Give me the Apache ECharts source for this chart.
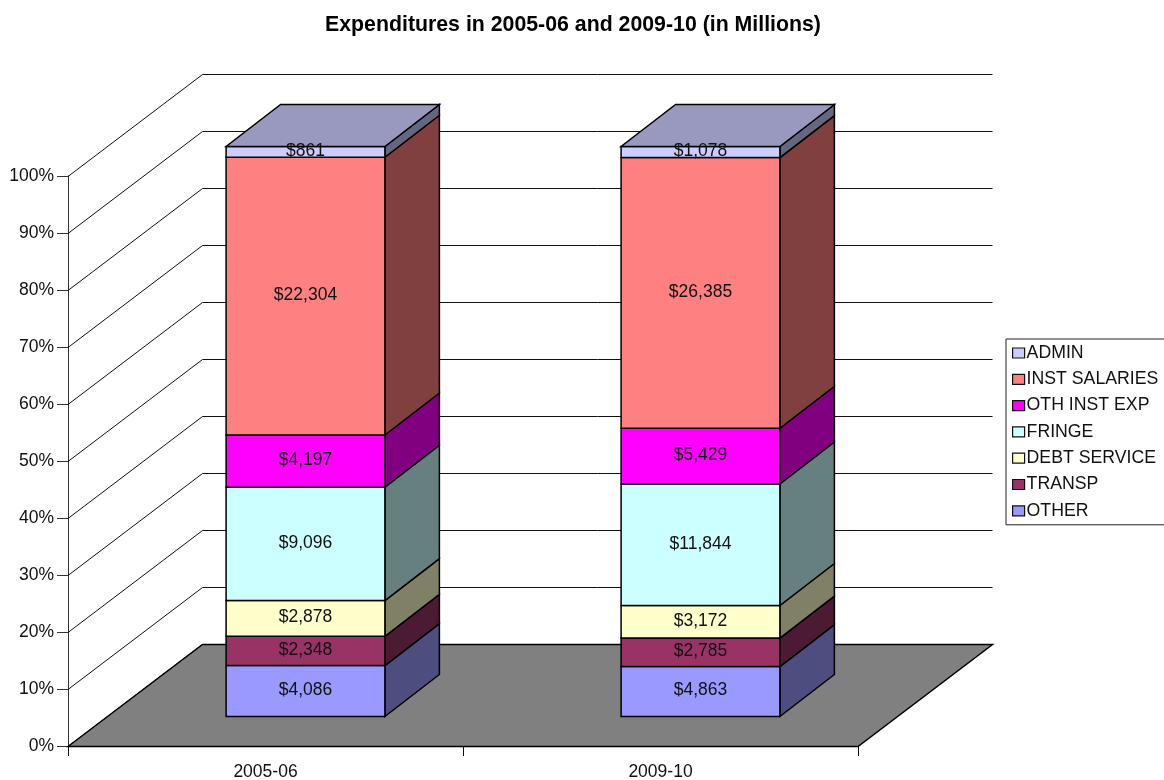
<!DOCTYPE html>
<html>
<head>
<meta charset="utf-8">
<style>
  html, body { margin: 0; padding: 0; background: #fff; }
  #main { width: 1164px; height: 780px; overflow: hidden; }
</style>
<script src="https://cdn.jsdelivr.net/npm/echarts@6/dist/echarts.min.js"></script>
</head>
<body>
<div id="main"></div>
<script>
var categories = ['2005-06', '2009-10'];
var yTicks = [0, 10, 20, 30, 40, 50, 60, 70, 80, 90, 100];

// stacked bottom to top, dollars in millions
var seriesNames = ['OTHER', 'TRANSP', 'DEBT SERVICE', 'FRINGE', 'OTH INST EXP', 'INST SALARIES', 'ADMIN'];
var other = [4086, 4863];
var transp = [2348, 2785];
var debtService = [2878, 3172];
var fringe = [9096, 11844];
var othInstExp = [4197, 5429];
var instSalaries = [22304, 26385];
var admin = [861, 1078];
var seriesValues = [other, transp, debtService, fringe, othInstExp, instSalaries, admin];

var frontColors = ['#9999FF', '#993366', '#FFFFCC', '#CCFFFF', '#FF00FF', '#FF8080', '#CCCCFF'];
var sideColors = ['#4D4D80', '#4D1A33', '#808066', '#668080', '#800080', '#804040', '#666680'];
var topColor = '#9999BF';

var FONT = '"Liberation Sans", Arial, sans-serif';
var LINE = '#000';
// projection of the 3d box, in pixels
var wallDx = 134.5, wallDy = -102;
var frontDx = 40, frontDy = -29.5;
var barDx = 54.5, barDy = -42;
var barShare = 0.402;

function poly(points, fill, z2) {
    return {
        type: 'polygon',
        z2: z2 || 0,
        shape: { points: points },
        style: { fill: fill, stroke: LINE, lineWidth: 1.5 }
    };
}

function renderWall(params, api) {
    var cs = params.coordSys;
    var y = Math.round(api.coord([0, api.value(0)])[1]) + 0.5;
    var x0 = cs.x, x1 = cs.x + cs.width;
    return {
        type: 'polyline',
        shape: { points: [[x0, y], [x0 + wallDx, y + wallDy], [x1 + wallDx, y + wallDy]] },
        style: { fill: null, stroke: '#111', lineWidth: 1 }
    };
}

function renderFloor(params, api) {
    var cs = params.coordSys;
    var y = api.coord([0, 0])[1] + 0.5;
    var x0 = cs.x, x1 = cs.x + cs.width;
    return {
        type: 'polygon',
        shape: { points: [[x0, y], [x0 + wallDx, y + wallDy], [x1 + wallDx, y + wallDy], [x1, y]] },
        style: { fill: '#808080', stroke: LINE, lineWidth: 1.5 }
    };
}

function makeBarRenderer(seriesIndex) {
    return function (params, api) {
        var cat = api.value(0);
        var band = api.size([1, 0])[0];
        var cx = api.coord([cat, 0])[0];
        var yLow = api.coord([cat, api.value(1)])[1] + frontDy;
        var yHigh = api.coord([cat, api.value(2)])[1] + frontDy;
        var xl = cx - band * barShare / 2 + frontDx;
        var xr = cx + band * barShare / 2 + frontDx;
        var children = [
            poly([[xr, yLow], [xr + barDx, yLow + barDy], [xr + barDx, yHigh + barDy], [xr, yHigh]], sideColors[seriesIndex]),
            poly([[xl, yLow], [xr, yLow], [xr, yHigh], [xl, yHigh]], frontColors[seriesIndex])
        ];
        if (seriesIndex === seriesNames.length - 1) {
            children.push(poly([[xl, yHigh], [xr, yHigh], [xr + barDx, yHigh + barDy], [xl + barDx, yHigh + barDy]], topColor));
        }
        children.push({
            type: 'text',
            z2: 10,
            style: {
                x: (xl + xr) / 2,
                y: (yLow + yHigh) / 2 - 1,
                text: '$' + api.value(3).toLocaleString('en-US'),
                align: 'center',
                verticalAlign: 'middle',
                fill: '#111',
                font: '17.5px ' + FONT
            }
        });
        return { type: 'group', children: children };
    };
}

var totals = categories.map(function (c, i) {
    return seriesValues.reduce(function (sum, s) { return sum + s[i]; }, 0);
});

var series = [
    {
        type: 'custom',
        name: 'walls',
        silent: true,
        z: 1,
        renderItem: renderWall,
        encode: { y: 0 },
        data: yTicks.map(function (t) { return [t]; })
    },
    {
        type: 'custom',
        name: 'floor',
        silent: true,
        z: 2,
        renderItem: renderFloor,
        encode: { y: 0 },
        data: [[0]]
    }
];

var running = categories.map(function () { return 0; });
seriesNames.forEach(function (name, si) {
    var rows = categories.map(function (c, i) {
        var low = running[i];
        running[i] += seriesValues[si][i];
        return [i, low / totals[i] * 100, running[i] / totals[i] * 100, seriesValues[si][i]];
    });
    series.push({
        type: 'custom',
        name: name,
        silent: true,
        z: 3 + si,
        itemStyle: { color: frontColors[si] },
        renderItem: makeBarRenderer(si),
        encode: { x: 0, y: [1, 2] },
        data: rows
    });
});

var option = {
    backgroundColor: '#fff',
    animation: false,
    title: {
        text: 'Expenditures in 2005-06 and 2009-10 (in Millions)',
        left: 568,
        top: 10,
        textAlign: 'center',
        textStyle: { fontFamily: FONT, fontSize: 21.3, fontWeight: 'bold', color: '#000' }
    },
    legend: {
        left: 1006,
        top: 339,
        orient: 'vertical',
        data: seriesNames.slice().reverse(),
        selectedMode: false,
        backgroundColor: '#fff',
        borderColor: '#222',
        borderWidth: 1,
        padding: [5, 30, 5, 6],
        itemGap: 8.3,
        itemWidth: 12,
        itemHeight: 10,
        icon: 'rect',
        itemStyle: { borderColor: '#111', borderWidth: 1.2 },
        textStyle: { fontFamily: FONT, fontSize: 17.7, color: '#111', padding: [0, 0, 0, -3] }
    },
    grid: { left: 68, right: 306, top: 176, bottom: 34, outerBoundsMode: 'none' },
    xAxis: {
        type: 'category',
        data: categories,
        axisLine: { lineStyle: { color: '#111', width: 1 } },
        axisTick: { show: true, alignWithLabel: false, length: 10, lineStyle: { color: '#111' } },
        axisLabel: { fontFamily: FONT, fontSize: 17.5, color: '#111', margin: 17 }
    },
    yAxis: {
        type: 'value',
        min: 0,
        max: 100,
        interval: 10,
        splitLine: { show: false },
        axisLine: { show: true, lineStyle: { color: '#333', width: 1 } },
        axisTick: { show: true, length: 11, lineStyle: { color: '#333' } },
        axisLabel: {
            fontFamily: FONT, fontSize: 17.5, color: '#111', margin: 14,
            padding: [2, 0, 0, 0],
            formatter: '{value}%'
        }
    },
    series: series
};

var myChart = echarts.init(document.getElementById('main'));
myChart.setOption(option);
</script>
</body>
</html>
